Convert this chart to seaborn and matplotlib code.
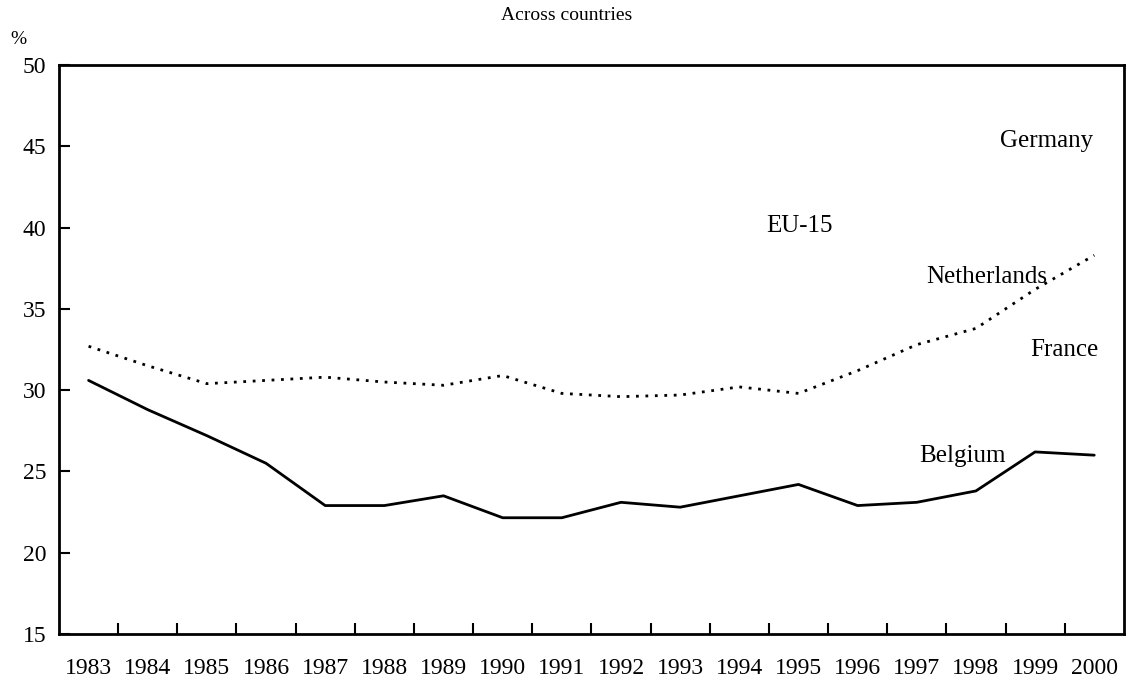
import pandas as pd
import matplotlib.pyplot as plt
import seaborn as sns
from matplotlib.ticker import FixedLocator

# Data (% values)
years = [str(y) for y in range(1983, 2001)]
belgium = [30.6, 28.8, 27.2, 25.5, 22.9, 22.9, 23.5, 22.15, 22.15,
           23.1, 22.8, 23.5, 24.2, 22.9, 23.1, 23.8, 26.2, 26.0]
eu15 = [32.7, 31.5, 30.4, 30.6, 30.8, 30.5, 30.3, 30.9, 29.8,
        29.6, 29.7, 30.2, 29.8, 31.2, 32.8, 33.8, 36.2, 38.3]

# Series labels and their positions (category index, value)
labels = ["Germany", "EU-15", "Netherlands", "France", "Belgium"]
label_x = [16.2, 12.02, 15.19, 16.5, 14.78]
label_y = [45.3, 40.1, 36.96, 32.47, 25.95]

df = pd.DataFrame({
    "year": years * 2,
    "value": belgium + eu15,
    "series": ["Belgium"] * len(years) + ["EU-15"] * len(years),
})
df["pos"] = df.groupby("series").cumcount()

sns.set_style("white")
plt.rcParams["font.family"] = ["Liberation Serif", "DejaVu Serif"]
plt.rcParams["text.color"] = "black"
plt.rcParams["xtick.color"] = "black"
plt.rcParams["ytick.color"] = "black"

fig = plt.figure(figsize=(11.28, 6.85), dpi=100)
ax = fig.add_axes([0.0523, 0.0745, 0.9440, 0.8305])

sns.lineplot(data=df, x="pos", y="value", style="series",
             style_order=["Belgium", "EU-15"],
             dashes={"Belgium": "", "EU-15": (1, 2.4)},
             color="black", linewidth=2, legend=False, ax=ax)

ax.set_xlim(-0.5, len(years) - 0.5)
ax.set_ylim(15, 50)
ax.set_yticks(range(15, 51, 5))
ax.set_xticks(range(len(years)))
ax.set_xticklabels(years)
ax.xaxis.set_minor_locator(FixedLocator([i + 0.5 for i in range(len(years) - 1)]))
ax.tick_params(axis="x", which="major", length=0, pad=17, labelsize=17,
               labelcolor="black")
ax.tick_params(axis="x", which="minor", direction="in", length=8, width=1.5,
               color="black", bottom=True)
ax.tick_params(axis="y", which="major", direction="in", length=8, width=1.5,
               color="black", left=True, pad=9, labelsize=17,
               labelcolor="black")
ax.set_xlabel("")
ax.set_ylabel("")

for side in ["left", "right", "top", "bottom"]:
    ax.spines[side].set_visible(True)
    ax.spines[side].set_color("black")
    ax.spines[side].set_linewidth(2)

for name, x, y in zip(labels, label_x, label_y):
    ax.text(x, y, name, ha="center", va="center", fontsize=18, color="black")

fig.text(0.502, 0.978, "Across countries", ha="center", va="center",
         fontsize=14, color="black")
fig.text(0.016, 0.942, "%", ha="center", va="center", fontsize=14,
         color="black")

fig.savefig("out.png", dpi=100)
